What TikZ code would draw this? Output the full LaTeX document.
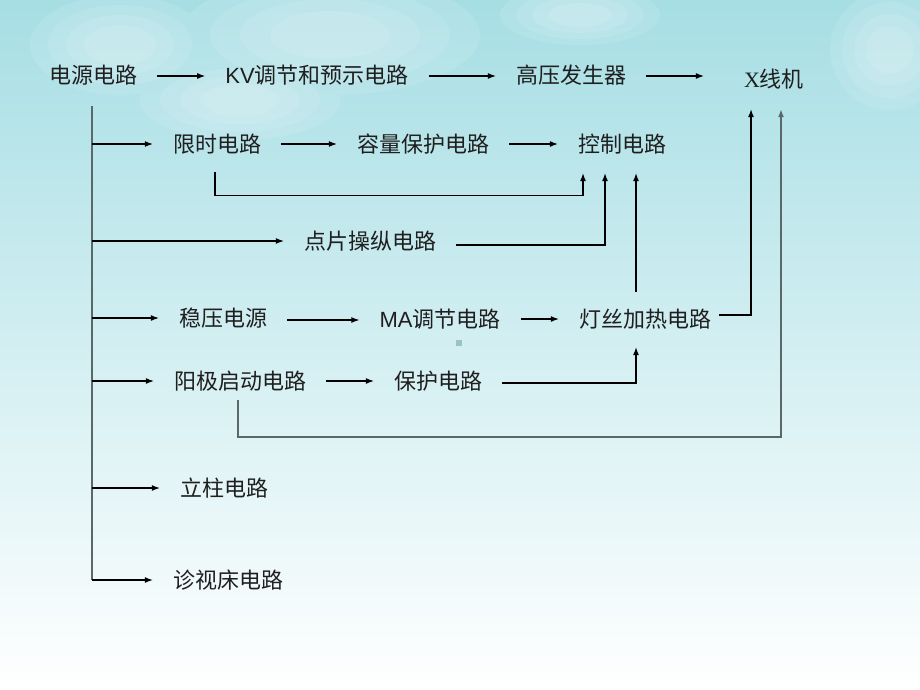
\documentclass[tikz,border=0pt]{standalone}
\usepackage{fontspec}
\setmainfont{Noto Sans CJK SC}
\newfontfamily\latinsans{Liberation Sans}
\newfontfamily\latinserif{Liberation Serif}
\usetikzlibrary{arrows.meta}
\definecolor{skytop}{RGB}{166,222,228}
\definecolor{skymid}{RGB}{192,233,237}
\definecolor{trunkgray}{RGB}{90,104,106}
\begin{document}
\begin{tikzpicture}[x=1pt,y=-1pt,
	lbl/.style={inner xsep=20pt,inner ysep=0pt,text height=19pt,text depth=3pt,
		font=\fontsize{22}{26}\selectfont,text=black!88},
	arr/.style={-{Latex[length=8pt,width=6pt]},line width=1.1pt,black},
	trunkline/.style={line width=1.8pt,trunkgray},
	grayarr/.style={-{Latex[length=8pt,width=6pt]},line width=1.5pt,trunkgray}]
% sky
\useasboundingbox (0,0) rectangle (920,690);
\shade[top color=skytop,middle color=skymid,bottom color=white] (0,0) rectangle (920,690);
\foreach \s in {1,.8,.6,.4}{
	\fill[white,opacity=.1] (120,45) ellipse ({90*\s} and {50*\s})
		(330,35) ellipse ({150*\s} and {60*\s}) (580,15) ellipse ({80*\s} and {30*\s})
		(890,50) ellipse ({60*\s} and {60*\s}) (240,100) ellipse ({100*\s} and {40*\s});
}
\fill[skytop!70!gray] (456,340) rectangle (462,346);
% nodes
\node[lbl] (power) at (93,76) {电源电路};
\node[lbl] (kv) at (317,76) {{\latinsans KV}调节和预示电路};
\node[lbl] (hv) at (571,76) {高压发生器};
\node[lbl] (xray) at (774,80) {{\latinserif X}线机};
\node[lbl] (timer) at (217,144) {限时电路};
\node[lbl] (capacity) at (423,144) {容量保护电路};
\node[lbl] (control) at (622,144) {控制电路};
\node[lbl] (spot) at (370,241) {点片操纵电路};
\node[lbl] (stab) at (223,318) {稳压电源};
\node[lbl] (ma) at (440,319) {{\latinsans MA}调节电路};
\node[lbl] (filament) at (645,319) {灯丝加热电路};
\node[lbl] (anode) at (240,381) {阳极启动电路};
\node[lbl] (protect) at (438,381) {保护电路};
\node[lbl] (column) at (224,488) {立柱电路};
\node[lbl] (table) at (228,580) {诊视床电路};
% main chain
\draw[arr] (power) -- (kv);
\draw[arr] (kv) -- (hv);
\draw[arr] (hv.east) -- ([xshift=-20pt]hv.east -| xray.west);
\draw[arr] (timer) -- (capacity);
\draw[arr] (capacity) -- (control);
\draw[arr] ([yshift=-2pt]stab.east) -- ([yshift=-2pt]stab.east -| ma.west);
\draw[arr] (ma) -- (filament);
\draw[arr] (anode) -- (protect);
% trunk and branches
\coordinate (trunk) at ([xshift=-1pt,yshift=-19pt]power.south);
\draw[trunkline] (trunk) -- (trunk |- table);
\foreach \n in {timer,spot,stab,anode,column,table}
	\draw[arr] (trunk |- \n) -- (\n.west);
% feedback lines
\draw[arr] ([xshift=-2pt,yshift=-17pt]timer.south) -- ([xshift=-2pt,yshift=-40pt]timer.south)
	-| ([xshift=-39pt,yshift=-18pt]control.south);
\draw[arr] ([yshift=-4pt]spot.east) -| ([xshift=-17pt,yshift=-18pt]control.south);
\draw[arr] ([xshift=-9pt,yshift=16pt]filament.north) -- ([xshift=14pt,yshift=-18pt]control.south);
\draw[arr] ([xshift=-12pt,yshift=4pt]filament.east) -| ([xshift=-23pt,yshift=-18pt]xray.south);
\draw[arr] ([yshift=-2pt]protect.east) -| ([xshift=-9pt,yshift=-17pt]filament.south);
\draw[grayarr] ([xshift=-2pt,yshift=-8pt]anode.south) -- ([xshift=-2pt,yshift=-45pt]anode.south)
	-| ([xshift=7pt,yshift=-18pt]xray.south);
\end{tikzpicture}
\end{document}
